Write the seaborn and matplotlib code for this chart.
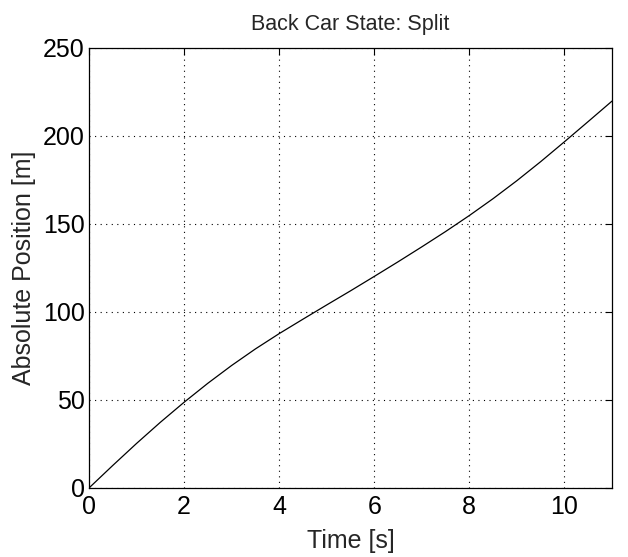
import matplotlib
matplotlib.use("Agg")
import matplotlib.pyplot as plt
import seaborn as sns
import pandas as pd

time_s = [0, 0.5, 1, 1.5, 2, 2.5, 3, 3.5, 4, 4.5, 5, 5.5, 6, 6.5, 7, 7.5,
          8, 8.5, 9, 9.5, 10, 10.5, 11]
position_m = [0, 12.8, 25.3, 37.3, 48.7, 59.5, 69.6, 79.0, 87.7, 95.9, 104.0,
              112.0, 120.2, 128.5, 137.0, 145.7, 154.8, 164.4, 174.6, 185.4,
              196.7, 208.2, 219.8]
x_ticks = [0, 2, 4, 6, 8, 10]
y_ticks = [0, 50, 100, 150, 200, 250]

sns.set_style("white")
plt.rcParams['font.family'] = ['Liberation Sans', 'DejaVu Sans']

df = pd.DataFrame({"t": time_s, "pos": position_m})

fig = plt.figure(figsize=(6.28, 5.57), dpi=100)
ax = fig.add_axes([0.1417, 0.1239, 0.8328, 0.79])
sns.lineplot(data=df, x="t", y="pos", ax=ax, color="black", linewidth=0.9)

ax.set_xlim(0, 11)
ax.set_ylim(0, 250)
ax.set_xticks(x_ticks)
ax.set_yticks(y_ticks)
ax.grid(True, linestyle=(0, (1, 4)), color="black", linewidth=0.8)
ax.tick_params(direction="in", length=5, width=0.8, top=True, right=True,
               labelsize=18, colors="black")
ax.tick_params(axis="x", pad=5)
ax.tick_params(axis="y", pad=3)
for s in ax.spines.values():
    s.set_visible(True)
    s.set_color("black")
    s.set_linewidth(0.9)
ax.set_xlabel("Time [s]", fontsize=18, labelpad=7)
ax.set_ylabel("Absolute Position [m]", fontsize=18, labelpad=5)
ax.set_title("Back Car State: Split", fontsize=15.5, pad=13)

fig.savefig("out.png", dpi=100, facecolor="white")
